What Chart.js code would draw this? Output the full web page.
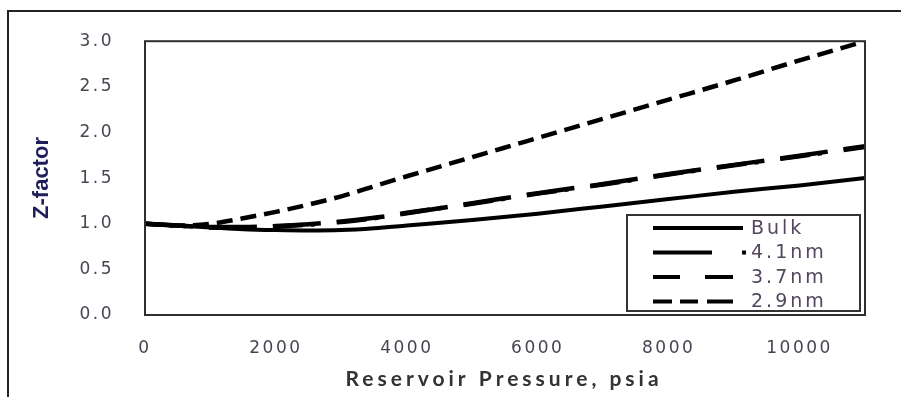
<!DOCTYPE html>
<html>
<head>
<meta charset="utf-8">
<script src="https://cdn.jsdelivr.net/npm/chart.js@4"></script>
<style>
  html, body { margin: 0; padding: 0; background: #ffffff; }
  #wrap { width: 901px; height: 397px; }
</style>
</head>
<body>
<div id="wrap"><canvas id="c" width="901" height="397"></canvas></div>
<script>
// ---- data ----
const pressure = [0, 500, 1000, 1500, 2000, 2500, 3000, 3500, 4000, 5000, 6000, 7000, 8000, 9000, 10000, 11000];
const bulk  = [1.00, 0.98, 0.96, 0.94, 0.93, 0.925, 0.93, 0.95, 0.98, 1.04, 1.11, 1.19, 1.27, 1.35, 1.42, 1.50];
const nm41  = [1.00, 0.98, 0.96, 0.96, 0.97, 0.99, 1.02, 1.06, 1.12, 1.22, 1.33, 1.43, 1.54, 1.64, 1.74, 1.84];
const nm37  = [1.00, 0.98, 0.965, 0.965, 0.975, 0.995, 1.025, 1.065, 1.115, 1.225, 1.335, 1.435, 1.545, 1.645, 1.745, 1.85];
const nm29  = [1.00, 0.98, 1.00, 1.06, 1.13, 1.21, 1.30, 1.41, 1.52, 1.73, 1.94, 2.15, 2.36, 2.57, 2.79, 3.00];
const seriesNames = ['Bulk', '4.1nm', '3.7nm', '2.9nm'];
const xTickValues = [0, 2000, 4000, 6000, 8000, 10000];
const yTickValues = [0, 0.5, 1.0, 1.5, 2.0, 2.5, 3.0];
const xTitle = 'Reservoir Pressure, psia';
const yTitle = 'Z-factor';

// ---- styles ----
const plotDash   = [[], [30, 8, 4, 22], [48, 16], [16, 8]];
const legendDash = [[], [59, 30, 4, 200], [27, 25, 28, 200], [19, 8, 18, 9, 26, 200]];
const legendEnd  = [743, 747, 733, 733];
const lineWidths = [4, 4.5, 4.5, 4.5];

function pts(arr) { return pressure.map((p, i) => ({ x: p, y: arr[i] })); }
const allSeries = [bulk, nm41, nm37, nm29];

const datasets = allSeries.map((s, i) => ({
  label: seriesNames[i],
  data: pts(s),
  borderColor: '#000000',
  backgroundColor: '#000000',
  borderWidth: lineWidths[i],
  borderDash: plotDash[i],
  borderCapStyle: 'butt',
  pointRadius: 0,
  fill: false,
  cubicInterpolationMode: 'monotone'
}));

const decor = {
  id: 'decor',
  beforeDraw(chart) {
    chart.ctx.letterSpacing = '2.5px';
  },
  afterDraw(chart) {
    const ctx = chart.ctx;
    const a = chart.chartArea;
    ctx.save();
    ctx.letterSpacing = '0px';
    ctx.strokeStyle = '#2e2e2e';
    ctx.lineWidth = 2;
    ctx.setLineDash([]);
    ctx.strokeRect(a.left, a.top, a.right - a.left, a.bottom - a.top);
    // outer frame (left + top only, image is cropped)
    ctx.strokeStyle = '#222222';
    ctx.beginPath();
    ctx.moveTo(8, 397);
    ctx.lineTo(8, 11);
    ctx.lineTo(901, 11);
    ctx.stroke();

    // legend
    const bx = 627, by = 215, bw = 233, bh = 96;
    ctx.fillStyle = '#ffffff';
    ctx.fillRect(bx, by, bw, bh);
    ctx.strokeStyle = '#333333';
    ctx.lineWidth = 2;
    ctx.strokeRect(bx, by, bw, bh);
    ctx.font = '19px "DejaVu Sans"';
    ctx.textAlign = 'left';
    ctx.textBaseline = 'middle';
    ctx.letterSpacing = '3px';
    chart.data.datasets.forEach((ds, i) => {
      const y = 228 + i * 24.5;
      ctx.strokeStyle = '#000000';
      ctx.lineWidth = 4;
      ctx.lineCap = 'butt';
      ctx.setLineDash(legendDash[i]);
      ctx.beginPath();
      ctx.moveTo(653, y);
      ctx.lineTo(legendEnd[i], y);
      ctx.stroke();
      ctx.setLineDash([]);
      ctx.fillStyle = '#55465e';
      ctx.fillText(ds.label, 751, y + 1);
    });

    // x axis title
    ctx.font = 'bold 21px Lato, "Open Sans", sans-serif';
    ctx.fillStyle = '#333333';
    ctx.textAlign = 'center';
    ctx.textBaseline = 'middle';
    ctx.letterSpacing = '4px';
    ctx.fillText(xTitle, 504, 379);

    // y axis title
    ctx.translate(42, 178);
    ctx.rotate(-Math.PI / 2);
    ctx.font = 'bold 22px "Liberation Sans Narrow", "Liberation Sans", sans-serif';
    ctx.fillStyle = '#1e1e5a';
    ctx.textAlign = 'center';
    ctx.textBaseline = 'middle';
    ctx.letterSpacing = '0px';
    ctx.fillText(yTitle, 0, 0);
    ctx.restore();
  }
};

new Chart(document.getElementById('c'), {
  type: 'line',
  data: { datasets },
  options: {
    responsive: false,
    animation: false,
    layout: { padding: { top: 39, right: 36, left: 0, bottom: 0 } },
    plugins: {
      legend: { display: false },
      tooltip: { enabled: false }
    },
    scales: {
      x: {
        type: 'linear',
        min: 0,
        max: 11000,
        grid: { display: false, drawTicks: false },
        border: { display: false },
        afterBuildTicks(scale) { scale.ticks = xTickValues.map(v => ({ value: v })); },
        afterFit(scale) { scale.height = 82; },
        ticks: {
          padding: 23,
          maxRotation: 0,
          autoSkip: false,
          color: '#4a4452',
          font: { family: '"DejaVu Sans"', size: 17 },
          callback: v => String(v)
        },
        title: { display: false, text: xTitle }
      },
      y: {
        type: 'linear',
        min: 0,
        max: 3,
        grid: { display: false, drawTicks: false },
        border: { display: false },
        afterBuildTicks(scale) { scale.ticks = yTickValues.map(v => ({ value: v })); },
        afterFit(scale) { scale.width = 145; },
        ticks: {
          padding: 31,
          color: '#4a4452',
          font: { family: '"DejaVu Sans"', size: 17 },
          callback: v => Number(v).toFixed(1)
        },
        title: { display: false, text: yTitle }
      }
    }
  },
  plugins: [decor]
});
</script>
</body>
</html>
